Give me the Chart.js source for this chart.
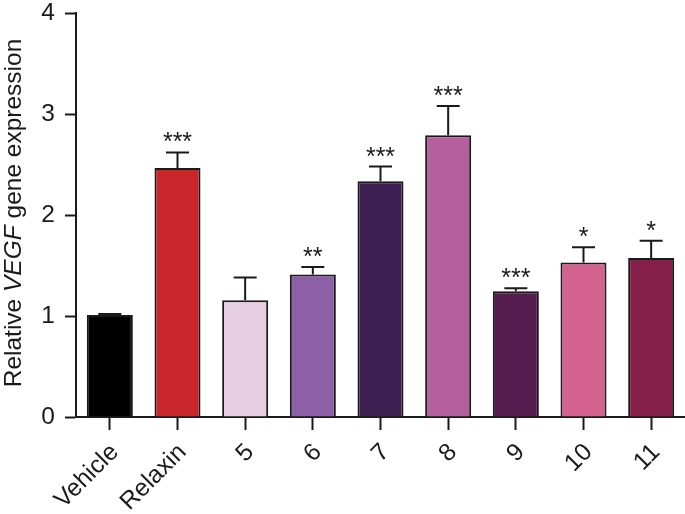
<!DOCTYPE html>
<html>
<head>
<meta charset="utf-8">
<script src="https://cdn.jsdelivr.net/npm/chart.js@4.4.0/dist/chart.umd.min.js"></script>
<style>
body { margin: 0; background: #fff; }
</style>
</head>
<body>
<canvas id="myChart" width="685" height="514"></canvas>
<script>
// values
var groups = ['Vehicle', 'Relaxin', '5', '6', '7', '8', '9', '10', '11'];
var means = [1.01, 2.465, 1.155, 1.41, 2.335, 2.79, 1.245, 1.53, 1.575];
var errors = [0.01, 0.155, 0.225, 0.075, 0.145, 0.29, 0.03, 0.15, 0.17];
var stars = ['', '***', '', '**', '***', '***', '***', '*', '*'];
var barColors = ['#000000', '#c8262b', '#e6cde0', '#8c5fa6', '#3d1f52', '#b5609e', '#561c4f', '#d4628f', '#85204b'];
var yTicks = [0, 1, 2, 3, 4];

var FONT = '"Liberation Sans", Arial, Helvetica, sans-serif';

// error bars + significance stars
var errorBars = {
    id: 'errorBars',
    afterDatasetsDraw: function (chart) {
        var ctx = chart.ctx;
        var y = chart.scales.y;
        var meta = chart.getDatasetMeta(0);
        ctx.save();
        ctx.strokeStyle = '#1a1a1a';
        ctx.lineWidth = 2;
        ctx.fillStyle = '#1a1a1a';
        ctx.font = '25px ' + FONT;
        ctx.textAlign = 'center';
        ctx.textBaseline = 'alphabetic';
        meta.data.forEach(function (bar, i) {
            var yTop = y.getPixelForValue(means[i]);
            var yErr = y.getPixelForValue(means[i] + errors[i]);
            ctx.beginPath();
            ctx.moveTo(bar.x, yTop);
            ctx.lineTo(bar.x, yErr);
            ctx.moveTo(bar.x - 11.5, yErr);
            ctx.lineTo(bar.x + 11.5, yErr);
            ctx.stroke();
            if (stars[i]) {
                ctx.fillText(stars[i], bar.x, yErr - 2);
            }
        });
        ctx.restore();
    }
};

// y title with italic gene name
var yTitle = {
    id: 'yTitle',
    afterDraw: function (chart) {
        var ctx = chart.ctx;
        var parts = [
            ['Relative ', 'normal'],
            ['VEGF', 'italic'],
            [' gene expression', 'normal']
        ];
        ctx.save();
        ctx.fillStyle = '#1a1a1a';
        ctx.textBaseline = 'alphabetic';
        ctx.textAlign = 'left';
        var total = 0;
        parts.forEach(function (p) {
            ctx.font = p[1] + ' 24.5px ' + FONT;
            total += ctx.measureText(p[0]).width;
        });
        ctx.translate(21, 213);
        ctx.rotate(-Math.PI / 2);
        var x = -total / 2;
        parts.forEach(function (p) {
            ctx.font = p[1] + ' 24.5px ' + FONT;
            ctx.fillText(p[0], x, 0);
            x += ctx.measureText(p[0]).width;
        });
        ctx.restore();
    }
};

function main() {
    var ctx = document.getElementById('myChart').getContext('2d');
    var chart = new Chart(ctx, {
        type: 'bar',
        data: {
            labels: groups,
            datasets: [{
                data: means,
                backgroundColor: barColors,
                borderColor: '#1a1a1a',
                borderWidth: 2,
                categoryPercentage: 1,
                barPercentage: 0.68
            }]
        },
        options: {
            responsive: false,
            animation: false,
            layout: { padding: { top: 13, right: 0, left: 0, bottom: 0 } },
            plugins: {
                legend: { display: false },
                tooltip: { enabled: false }
            },
            scales: {
                x: {
                    offset: true,
                    border: { color: '#1a1a1a', width: 2 },
                    grid: {
                        offset: false,
                        drawOnChartArea: false,
                        drawTicks: true,
                        tickLength: 13,
                        tickColor: '#1a1a1a',
                        tickWidth: 2
                    },
                    ticks: {
                        color: '#1a1a1a',
                        font: { family: FONT, size: 24.5 },
                        minRotation: 45,
                        maxRotation: 45,
                        padding: 8,
                        labelOffset: 5
                    },
                    afterFit: function (scale) { scale.height = 97; }
                },
                y: {
                    min: 0,
                    max: 4,
                    border: { color: '#1a1a1a', width: 2 },
                    grid: {
                        drawOnChartArea: false,
                        drawTicks: true,
                        tickLength: 11,
                        tickColor: '#1a1a1a',
                        tickWidth: 2
                    },
                    afterBuildTicks: function (scale) {
                        scale.ticks = yTicks.map(function (v) { return { value: v }; });
                    },
                    ticks: {
                        color: '#1a1a1a',
                        font: { family: FONT, size: 24.5, lineHeight: 0.1 },
                        padding: 10
                    },
                    afterFit: function (scale) { scale.width = 76; }
                }
            }
        },
        plugins: [errorBars, yTitle]
    });
}

main();
</script>
</body>
</html>
